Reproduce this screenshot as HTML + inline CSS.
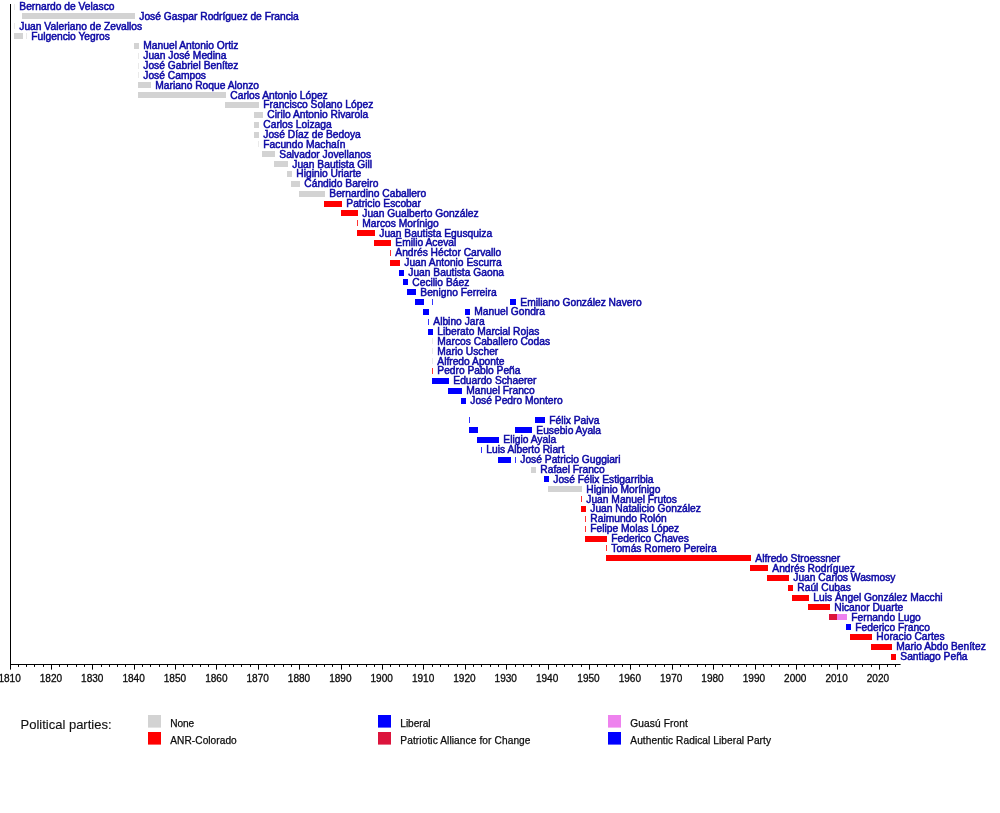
<!DOCTYPE html>
<html><head><meta charset="utf-8"><title>Presidents of Paraguay timeline</title>
<style>html,body{margin:0;padding:0;background:#fff}svg{display:block}text{font-family:"Liberation Sans",sans-serif}</style></head><body>
<svg style="will-change:transform" width="1000" height="813" viewBox="0 0 1000 813">
<rect width="1000" height="813" fill="#fff"/>
<g shape-rendering="auto">
<rect x="14" y="4" width="1" height="6" fill="#d3d3d3" fill-opacity="0.5"/>
<rect x="22" y="13" width="113" height="6" fill="#d3d3d3"/>
<rect x="14" y="23" width="1" height="6" fill="#d3d3d3" fill-opacity="0.5"/>
<rect x="14" y="33" width="9" height="6" fill="#d3d3d3"/>
<rect x="26" y="33" width="1" height="6" fill="#d3d3d3" fill-opacity="0.5"/>
<rect x="134" y="43" width="5" height="6" fill="#d3d3d3"/>
<rect x="138" y="53" width="1" height="6" fill="#d3d3d3" fill-opacity="0.5"/>
<rect x="138" y="63" width="1" height="6" fill="#d3d3d3" fill-opacity="0.5"/>
<rect x="138" y="72" width="1" height="6" fill="#d3d3d3" fill-opacity="0.5"/>
<rect x="138" y="82" width="13" height="6" fill="#d3d3d3"/>
<rect x="138" y="92" width="88" height="6" fill="#d3d3d3"/>
<rect x="225" y="102" width="34" height="6" fill="#d3d3d3"/>
<rect x="254" y="112" width="9" height="6" fill="#d3d3d3"/>
<rect x="254" y="122" width="5" height="6" fill="#d3d3d3"/>
<rect x="254" y="132" width="5" height="6" fill="#d3d3d3"/>
<rect x="258" y="141" width="1" height="6" fill="#d3d3d3" fill-opacity="0.5"/>
<rect x="262" y="151" width="13" height="6" fill="#d3d3d3"/>
<rect x="274" y="161" width="14" height="6" fill="#d3d3d3"/>
<rect x="287" y="171" width="5" height="6" fill="#d3d3d3"/>
<rect x="291" y="181" width="9" height="6" fill="#d3d3d3"/>
<rect x="299" y="191" width="26" height="6" fill="#d3d3d3"/>
<rect x="324" y="201" width="18" height="6" fill="#ff0000"/>
<rect x="341" y="210" width="17" height="6" fill="#ff0000"/>
<rect x="357" y="220" width="1" height="6" fill="#ff0000" fill-opacity="0.8"/>
<rect x="357" y="230" width="18" height="6" fill="#ff0000"/>
<rect x="374" y="240" width="17" height="6" fill="#ff0000"/>
<rect x="390" y="250" width="1" height="6" fill="#ff0000" fill-opacity="0.8"/>
<rect x="390" y="260" width="10" height="6" fill="#ff0000"/>
<rect x="399" y="270" width="5" height="6" fill="#0000ff"/>
<rect x="403" y="279" width="5" height="6" fill="#0000ff"/>
<rect x="407" y="289" width="9" height="6" fill="#0000ff"/>
<rect x="415" y="299" width="9" height="6" fill="#0000ff"/>
<rect x="432" y="299" width="1" height="6" fill="#0000ff" fill-opacity="0.8"/>
<rect x="510" y="299" width="6" height="6" fill="#0000ff"/>
<rect x="423" y="309" width="6" height="6" fill="#0000ff"/>
<rect x="465" y="309" width="5" height="6" fill="#0000ff"/>
<rect x="428" y="319" width="1" height="6" fill="#0000ff" fill-opacity="0.8"/>
<rect x="428" y="329" width="5" height="6" fill="#0000ff"/>
<rect x="432" y="338" width="1" height="6" fill="#d3d3d3" fill-opacity="0.5"/>
<rect x="432" y="348" width="1" height="6" fill="#d3d3d3" fill-opacity="0.5"/>
<rect x="432" y="358" width="1" height="6" fill="#d3d3d3" fill-opacity="0.5"/>
<rect x="432" y="368" width="1" height="6" fill="#ff0000" fill-opacity="0.8"/>
<rect x="432" y="378" width="17" height="6" fill="#0000ff"/>
<rect x="448" y="388" width="14" height="6" fill="#0000ff"/>
<rect x="461" y="398" width="5" height="6" fill="#0000ff"/>
<rect x="469" y="417" width="1" height="6" fill="#0000ff" fill-opacity="0.8"/>
<rect x="535" y="417" width="10" height="6" fill="#0000ff"/>
<rect x="469" y="427" width="9" height="6" fill="#0000ff"/>
<rect x="515" y="427" width="17" height="6" fill="#0000ff"/>
<rect x="477" y="437" width="22" height="6" fill="#0000ff"/>
<rect x="481" y="447" width="1" height="6" fill="#0000ff" fill-opacity="0.8"/>
<rect x="498" y="457" width="13" height="6" fill="#0000ff"/>
<rect x="515" y="457" width="1" height="6" fill="#0000ff" fill-opacity="0.8"/>
<rect x="531" y="467" width="5" height="6" fill="#d3d3d3"/>
<rect x="544" y="476" width="5" height="6" fill="#0000ff"/>
<rect x="548" y="486" width="34" height="6" fill="#d3d3d3"/>
<rect x="581" y="496" width="1" height="6" fill="#ff0000" fill-opacity="0.8"/>
<rect x="581" y="506" width="5" height="6" fill="#ff0000"/>
<rect x="585" y="516" width="1" height="6" fill="#ff0000" fill-opacity="0.8"/>
<rect x="585" y="526" width="1" height="6" fill="#ff0000" fill-opacity="0.8"/>
<rect x="585" y="536" width="22" height="6" fill="#ff0000"/>
<rect x="606" y="545" width="1" height="6" fill="#ff0000" fill-opacity="0.8"/>
<rect x="606" y="555" width="145" height="6" fill="#ff0000"/>
<rect x="750" y="565" width="18" height="6" fill="#ff0000"/>
<rect x="767" y="575" width="22" height="6" fill="#ff0000"/>
<rect x="788" y="585" width="5" height="6" fill="#ff0000"/>
<rect x="792" y="595" width="17" height="6" fill="#ff0000"/>
<rect x="808" y="604" width="22" height="6" fill="#ff0000"/>
<rect x="829" y="614" width="9" height="6" fill="#dc143c"/>
<rect x="837" y="614" width="10" height="6" fill="#ee82ee"/>
<rect x="846" y="624" width="5" height="6" fill="#0000ff"/>
<rect x="850" y="634" width="22" height="6" fill="#ff0000"/>
<rect x="871" y="644" width="21" height="6" fill="#ff0000"/>
<rect x="891" y="654" width="5" height="6" fill="#ff0000"/>
</g>
<g font-size="10.25" fill="#0c08a4" stroke="#0c08a4" stroke-width="0.5" class="lbl">
<text x="19.30" y="10.00">Bernardo de Velasco</text>
<text x="139.30" y="20.00">José Gaspar Rodríguez de Francia</text>
<text x="19.30" y="30.00">Juan Valeriano de Zevallos</text>
<text x="31.30" y="40.00">Fulgencio Yegros</text>
<text x="143.30" y="49.00">Manuel Antonio Ortiz</text>
<text x="143.30" y="59.00">Juan José Medina</text>
<text x="143.30" y="69.00">José Gabriel Benítez</text>
<text x="143.30" y="79.00">José Campos</text>
<text x="155.30" y="89.00">Mariano Roque Alonzo</text>
<text x="230.30" y="99.00">Carlos Antonio López</text>
<text x="263.30" y="108.00">Francisco Solano López</text>
<text x="267.30" y="118.00">Cirilo Antonio Rivarola</text>
<text x="263.30" y="128.00">Carlos Loizaga</text>
<text x="263.30" y="138.00">José Díaz de Bedoya</text>
<text x="263.30" y="148.00">Facundo Machaín</text>
<text x="279.30" y="158.00">Salvador Jovellanos</text>
<text x="292.30" y="168.00">Juan Bautista Gill</text>
<text x="296.30" y="177.00">Higinio Uriarte</text>
<text x="304.30" y="187.00">Cándido Bareiro</text>
<text x="329.30" y="197.00">Bernardino Caballero</text>
<text x="346.30" y="207.00">Patricio Escobar</text>
<text x="362.30" y="217.00">Juan Gualberto González</text>
<text x="362.30" y="227.00">Marcos Morínigo</text>
<text x="379.30" y="237.00">Juan Bautista Egusquiza</text>
<text x="395.30" y="246.00">Emilio Aceval</text>
<text x="395.30" y="256.00">Andrés Héctor Carvallo</text>
<text x="404.30" y="266.00">Juan Antonio Escurra</text>
<text x="408.30" y="276.00">Juan Bautista Gaona</text>
<text x="412.30" y="286.00">Cecilio Báez</text>
<text x="420.30" y="296.00">Benigno Ferreira</text>
<text x="520.30" y="306.00">Emiliano González Navero</text>
<text x="474.30" y="315.00">Manuel Gondra</text>
<text x="433.30" y="325.00">Albino Jara</text>
<text x="437.30" y="335.00">Liberato Marcial Rojas</text>
<text x="437.30" y="345.00">Marcos Caballero Codas</text>
<text x="437.30" y="355.00">Mario Uscher</text>
<text x="437.30" y="365.00">Alfredo Aponte</text>
<text x="437.30" y="374.00">Pedro Pablo Peña</text>
<text x="453.30" y="384.00">Eduardo Schaerer</text>
<text x="466.30" y="394.00">Manuel Franco</text>
<text x="470.30" y="404.00">José Pedro Montero</text>
<text x="549.30" y="424.00">Félix Paiva</text>
<text x="536.30" y="434.00">Eusebio Ayala</text>
<text x="503.30" y="443.00">Eligio Ayala</text>
<text x="486.30" y="453.00">Luis Alberto Riart</text>
<text x="520.30" y="463.00">José Patricio Guggiari</text>
<text x="540.30" y="473.00">Rafael Franco</text>
<text x="553.30" y="483.00">José Félix Estigarribia</text>
<text x="586.30" y="493.00">Higinio Morínigo</text>
<text x="586.30" y="503.00">Juan Manuel Frutos</text>
<text x="590.30" y="512.00">Juan Natalicio González</text>
<text x="590.30" y="522.00">Raimundo Rolón</text>
<text x="590.30" y="532.00">Felipe Molas López</text>
<text x="611.30" y="542.00">Federico Chaves</text>
<text x="611.30" y="552.00">Tomás Romero Pereira</text>
<text x="755.30" y="562.00">Alfredo Stroessner</text>
<text x="772.30" y="572.00">Andrés Rodríguez</text>
<text x="793.30" y="581.00">Juan Carlos Wasmosy</text>
<text x="797.30" y="591.00">Raúl Cubas</text>
<text x="813.30" y="601.00">Luis Ángel González Macchi</text>
<text x="834.30" y="611.00">Nicanor Duarte</text>
<text x="851.30" y="621.00">Fernando Lugo</text>
<text x="855.30" y="631.00">Federico Franco</text>
<text x="876.30" y="640.00">Horacio Cartes</text>
<text x="896.30" y="650.00">Mario Abdo Benítez</text>
<text x="900.30" y="660.00">Santiago Peña</text>
</g>
<g fill="#000">
<rect x="10" y="4" width="1" height="661"/>
<rect x="10" y="664" width="890.6" height="1"/>
<rect x="10" y="664" width="1" height="5.6"/>
<rect x="18" y="664" width="1" height="2.9"/>
<rect x="26" y="664" width="1" height="2.9"/>
<rect x="34" y="664" width="1" height="2.9"/>
<rect x="43" y="664" width="1" height="2.9"/>
<rect x="51" y="664" width="1" height="5.6"/>
<rect x="59" y="664" width="1" height="2.9"/>
<rect x="67" y="664" width="1" height="2.9"/>
<rect x="76" y="664" width="1" height="2.9"/>
<rect x="84" y="664" width="1" height="2.9"/>
<rect x="92" y="664" width="1" height="5.6"/>
<rect x="101" y="664" width="1" height="2.9"/>
<rect x="109" y="664" width="1" height="2.9"/>
<rect x="117" y="664" width="1" height="2.9"/>
<rect x="125" y="664" width="1" height="2.9"/>
<rect x="134" y="664" width="1" height="5.6"/>
<rect x="142" y="664" width="1" height="2.9"/>
<rect x="150" y="664" width="1" height="2.9"/>
<rect x="159" y="664" width="1" height="2.9"/>
<rect x="167" y="664" width="1" height="2.9"/>
<rect x="175" y="664" width="1" height="5.6"/>
<rect x="183" y="664" width="1" height="2.9"/>
<rect x="192" y="664" width="1" height="2.9"/>
<rect x="200" y="664" width="1" height="2.9"/>
<rect x="208" y="664" width="1" height="2.9"/>
<rect x="216" y="664" width="1" height="5.6"/>
<rect x="225" y="664" width="1" height="2.9"/>
<rect x="233" y="664" width="1" height="2.9"/>
<rect x="241" y="664" width="1" height="2.9"/>
<rect x="250" y="664" width="1" height="2.9"/>
<rect x="258" y="664" width="1" height="5.6"/>
<rect x="266" y="664" width="1" height="2.9"/>
<rect x="274" y="664" width="1" height="2.9"/>
<rect x="283" y="664" width="1" height="2.9"/>
<rect x="291" y="664" width="1" height="2.9"/>
<rect x="299" y="664" width="1" height="5.6"/>
<rect x="308" y="664" width="1" height="2.9"/>
<rect x="316" y="664" width="1" height="2.9"/>
<rect x="324" y="664" width="1" height="2.9"/>
<rect x="332" y="664" width="1" height="2.9"/>
<rect x="341" y="664" width="1" height="5.6"/>
<rect x="349" y="664" width="1" height="2.9"/>
<rect x="357" y="664" width="1" height="2.9"/>
<rect x="366" y="664" width="1" height="2.9"/>
<rect x="374" y="664" width="1" height="2.9"/>
<rect x="382" y="664" width="1" height="5.6"/>
<rect x="390" y="664" width="1" height="2.9"/>
<rect x="399" y="664" width="1" height="2.9"/>
<rect x="407" y="664" width="1" height="2.9"/>
<rect x="415" y="664" width="1" height="2.9"/>
<rect x="423" y="664" width="1" height="5.6"/>
<rect x="432" y="664" width="1" height="2.9"/>
<rect x="440" y="664" width="1" height="2.9"/>
<rect x="448" y="664" width="1" height="2.9"/>
<rect x="457" y="664" width="1" height="2.9"/>
<rect x="465" y="664" width="1" height="5.6"/>
<rect x="473" y="664" width="1" height="2.9"/>
<rect x="481" y="664" width="1" height="2.9"/>
<rect x="490" y="664" width="1" height="2.9"/>
<rect x="498" y="664" width="1" height="2.9"/>
<rect x="506" y="664" width="1" height="5.6"/>
<rect x="515" y="664" width="1" height="2.9"/>
<rect x="523" y="664" width="1" height="2.9"/>
<rect x="531" y="664" width="1" height="2.9"/>
<rect x="539" y="664" width="1" height="2.9"/>
<rect x="548" y="664" width="1" height="5.6"/>
<rect x="556" y="664" width="1" height="2.9"/>
<rect x="564" y="664" width="1" height="2.9"/>
<rect x="572" y="664" width="1" height="2.9"/>
<rect x="581" y="664" width="1" height="2.9"/>
<rect x="589" y="664" width="1" height="5.6"/>
<rect x="597" y="664" width="1" height="2.9"/>
<rect x="606" y="664" width="1" height="2.9"/>
<rect x="614" y="664" width="1" height="2.9"/>
<rect x="622" y="664" width="1" height="2.9"/>
<rect x="630" y="664" width="1" height="5.6"/>
<rect x="639" y="664" width="1" height="2.9"/>
<rect x="647" y="664" width="1" height="2.9"/>
<rect x="655" y="664" width="1" height="2.9"/>
<rect x="664" y="664" width="1" height="2.9"/>
<rect x="672" y="664" width="1" height="5.6"/>
<rect x="680" y="664" width="1" height="2.9"/>
<rect x="688" y="664" width="1" height="2.9"/>
<rect x="697" y="664" width="1" height="2.9"/>
<rect x="705" y="664" width="1" height="2.9"/>
<rect x="713" y="664" width="1" height="5.6"/>
<rect x="722" y="664" width="1" height="2.9"/>
<rect x="730" y="664" width="1" height="2.9"/>
<rect x="738" y="664" width="1" height="2.9"/>
<rect x="746" y="664" width="1" height="2.9"/>
<rect x="755" y="664" width="1" height="5.6"/>
<rect x="763" y="664" width="1" height="2.9"/>
<rect x="771" y="664" width="1" height="2.9"/>
<rect x="779" y="664" width="1" height="2.9"/>
<rect x="788" y="664" width="1" height="2.9"/>
<rect x="796" y="664" width="1" height="5.6"/>
<rect x="804" y="664" width="1" height="2.9"/>
<rect x="813" y="664" width="1" height="2.9"/>
<rect x="821" y="664" width="1" height="2.9"/>
<rect x="829" y="664" width="1" height="2.9"/>
<rect x="837" y="664" width="1" height="5.6"/>
<rect x="846" y="664" width="1" height="2.9"/>
<rect x="854" y="664" width="1" height="2.9"/>
<rect x="862" y="664" width="1" height="2.9"/>
<rect x="871" y="664" width="1" height="2.9"/>
<rect x="879" y="664" width="1" height="5.6"/>
<rect x="887" y="664" width="1" height="2.9"/>
<rect x="895" y="664" width="1" height="2.9"/>
</g>
<g font-size="10.05" fill="#0c0c0c" stroke="#0c0c0c" stroke-width="0.3" text-anchor="middle">
<text x="9.55" y="682">1810</text>
<text x="50.90" y="682">1820</text>
<text x="92.25" y="682">1830</text>
<text x="133.61" y="682">1840</text>
<text x="174.96" y="682">1850</text>
<text x="216.31" y="682">1860</text>
<text x="257.66" y="682">1870</text>
<text x="299.02" y="682">1880</text>
<text x="340.37" y="682">1890</text>
<text x="381.72" y="682">1900</text>
<text x="423.07" y="682">1910</text>
<text x="464.43" y="682">1920</text>
<text x="505.78" y="682">1930</text>
<text x="547.13" y="682">1940</text>
<text x="588.48" y="682">1950</text>
<text x="629.84" y="682">1960</text>
<text x="671.19" y="682">1970</text>
<text x="712.54" y="682">1980</text>
<text x="753.89" y="682">1990</text>
<text x="795.25" y="682">2000</text>
<text x="836.60" y="682">2010</text>
<text x="877.95" y="682">2020</text>
</g>
<text x="20.5" y="729.2" font-size="13" fill="#111" stroke="#111" stroke-width="0.12">Political parties:</text>
<rect x="148" y="715" width="13" height="12.6" fill="#d3d3d3"/>
<text x="170.3" y="727" font-size="10.15" fill="#0c0c0c" stroke="#0c0c0c" stroke-width="0.25" textLength="23.95" lengthAdjust="spacing">None</text>
<rect x="148" y="732" width="13" height="12.6" fill="#ff0000"/>
<text x="170.3" y="744" font-size="10.15" fill="#0c0c0c" stroke="#0c0c0c" stroke-width="0.25" textLength="66.45" lengthAdjust="spacing">ANR-Colorado</text>
<rect x="378" y="715" width="13" height="12.6" fill="#0000ff"/>
<text x="400.3" y="727" font-size="10.15" fill="#0c0c0c" stroke="#0c0c0c" stroke-width="0.25" textLength="30.2" lengthAdjust="spacing">Liberal</text>
<rect x="378" y="732" width="13" height="12.6" fill="#dc143c"/>
<text x="400.3" y="744" font-size="10.15" fill="#0c0c0c" stroke="#0c0c0c" stroke-width="0.25" textLength="130.2" lengthAdjust="spacing">Patriotic Alliance for Change</text>
<rect x="608" y="715" width="13" height="12.6" fill="#ee82ee"/>
<text x="630.3" y="727" font-size="10.15" fill="#0c0c0c" stroke="#0c0c0c" stroke-width="0.25" textLength="57.45" lengthAdjust="spacing">Guasú Front</text>
<rect x="608" y="732" width="13" height="12.6" fill="#0000ff"/>
<text x="630.3" y="744" font-size="10.15" fill="#0c0c0c" stroke="#0c0c0c" stroke-width="0.25" textLength="140.7" lengthAdjust="spacing">Authentic Radical Liberal Party</text>
</svg></body></html>
